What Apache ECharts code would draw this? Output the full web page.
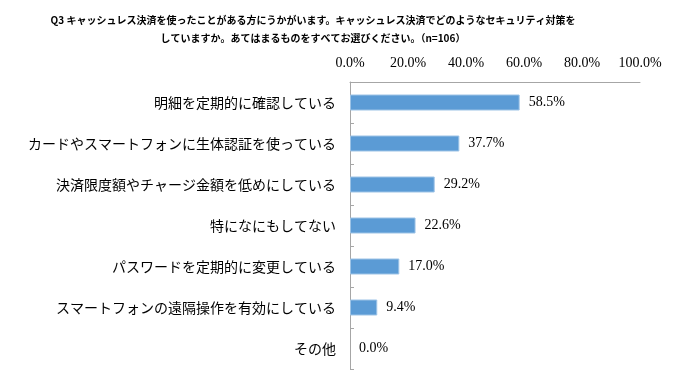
<!DOCTYPE html>
<html><head><meta charset="utf-8">
<script src="https://cdn.jsdelivr.net/npm/echarts@6/dist/echarts.min.js"></script>
<style>html,body{margin:0;padding:0;background:#fff}#c{width:680px;height:380px}</style>
</head><body><div id="c"></div>
<script>
const titleLines = [
  'Q3 キャッシュレス決済を使ったことがある方にうかがいます。キャッシュレス決済でどのようなセキュリティ対策を',
  'していますか。あてはまるものをすべてお選びください。（n=106）'
];
const categories = [
  '明細を定期的に確認している',
  'カードやスマートフォンに生体認証を使っている',
  '決済限度額やチャージ金額を低めにしている',
  '特になにもしてない',
  'パスワードを定期的に変更している',
  'スマートフォンの遠隔操作を有効にしている',
  'その他'
];
const values = [58.5, 37.7, 29.2, 22.6, 17.0, 9.4, 0.0];
const axisMin = 0, axisMax = 100, axisStep = 20;

const chart = echarts.init(document.getElementById('c'));
chart.setOption({
  animation: false,
  backgroundColor: '#fff',
  graphic: titleLines.map((t, i) => ({
    type: 'text', x: 313, y: 20 + i * 18,
    style: { text: t, textAlign: 'center', textVerticalAlign: 'middle',
      font: 'bold 10px "Noto Sans CJK JP"', fill: '#000' }
  })),
  grid: { left: 350, right: 40, top: 82, bottom: 11, containLabel: false },
  xAxis: {
    type: 'value', position: 'top', min: axisMin, max: axisMax, interval: axisStep,
    axisLine: { show: true, lineStyle: { color: '#A6A6A6', width: 1 } },
    axisTick: { show: false }, splitLine: { show: false },
    axisLabel: { margin: 12, color: '#000', fontFamily: '"Liberation Serif","DejaVu Serif",serif', fontSize: 14,
      formatter: v => v.toFixed(1) + '%' }
  },
  yAxis: {
    type: 'category', data: categories, inverse: true,
    axisLine: { show: true, lineStyle: { color: '#A6A6A6', width: 1 } },
    axisTick: { show: true, inside: true, length: 4, lineStyle: { color: '#A6A6A6' } },
    axisLabel: { margin: 14, color: '#000', fontFamily: '"Noto Sans CJK JP"', fontSize: 14 }
  },
  series: [{
    type: 'bar', barWidth: 16,
    data: values.map(v => ({ value: v, itemStyle: { borderWidth: v > 0 ? 1 : 0, opacity: v > 0 ? 1 : 0 } })),
    itemStyle: { color: '#5B9BD5', borderColor: '#9DC3E6', borderWidth: 1 },
    label: { show: true, position: 'right', distance: 9, color: '#000', opacity: 1,
      fontFamily: '"Liberation Serif","DejaVu Serif",serif', fontSize: 14,
      formatter: p => p.value.toFixed(1) + '%' }
  }]
});
</script></body></html>
